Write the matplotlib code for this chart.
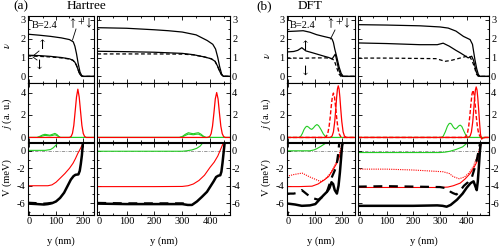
import matplotlib
matplotlib.use("Agg")
import matplotlib.pyplot as plt
from matplotlib.ticker import MultipleLocator
from matplotlib.lines import Line2D

plt.rcParams['font.family'] = ['Liberation Serif', 'DejaVu Serif']
plt.rcParams['mathtext.fontset'] = 'stix'
plt.rcParams['axes.unicode_minus'] = False

W, H = 500, 247

# ---------------- data ----------------
# x limits of the four columns (nm)
xlim_ha_l = (-5, 242)
xlim_ha_r = (-6, 472)
xlim_df_l = (-6, 247)
xlim_df_r = (-7.5, 484)
ylim_nu = (-0.35, 3.2)
ylim_j = (-0.45, 4.85)
ylim_v = (-7.35, 0.95)

xt_l = [0, 100, 200]
xt_r = [0, 100, 200, 300, 400]
yt_nu = [0, 1, 2, 3]
yt_j = [0, 2, 4]
yt_v = [0, -2, -4, -6]

# ---- Hartree, filling factor
ha_l_tot_x = [-5, 0, 40, 80, 120, 150, 164, 170, 176, 182, 189, 195, 200, 242]
ha_l_tot_y = [2.24, 2.23, 2.18, 2.12, 2.04, 1.95, 1.83, 1.6, 1.2, 0.7, 0.23, 0.05, 0.0, 0.0]
ha_l_up_x = [-5, 0, 40, 80, 120, 150, 162, 170, 176, 182, 188, 195, 200, 242]
ha_l_up_y = [1.13, 1.12, 1.1, 1.06, 1.0, 0.93, 0.86, 0.75, 0.58, 0.35, 0.12, 0.02, 0.0, 0.0]
ha_l_dn_y = [1.08, 1.08, 1.06, 1.03, 0.98, 0.92, 0.86, 0.75, 0.58, 0.35, 0.12, 0.02, 0.0, 0.0]

ha_r_tot_x = [-6, 0, 100, 200, 250, 300, 350, 390, 410, 420, 428, 435, 442, 448, 472]
ha_r_tot_y = [2.58, 2.58, 2.55, 2.47, 2.42, 2.35, 2.2, 1.9, 1.7, 1.45, 1.0, 0.5, 0.12, 0.0, 0.0]
ha_r_up_x = [-6, 0, 100, 200, 300, 340, 380, 405, 418, 427, 434, 441, 448, 472]
ha_r_up_y = [1.33, 1.33, 1.31, 1.28, 1.22, 1.15, 1.03, 0.93, 0.8, 0.55, 0.3, 0.1, 0.01, 0.0]
ha_r_dn_y = [1.19, 1.19, 1.19, 1.19, 1.18, 1.14, 1.03, 0.93, 0.8, 0.55, 0.3, 0.1, 0.01, 0.0]

# ---- DFT, filling factor
df_l_tot_x = [-6, 0, 30, 55, 80, 105, 130, 154, 162, 167, 172, 180, 188, 196, 204, 247]
df_l_tot_y = [2.38, 2.38, 2.4, 2.42, 2.34, 2.21, 2.12, 2.04, 1.98, 1.8, 1.45, 1.0, 0.5, 0.15, 0.0, 0.0]
df_l_up_x = [-6, 0, 20, 35, 50, 65, 90, 130, 150, 162, 168, 174, 180, 186, 193, 200, 247]
df_l_up_y = [1.3, 1.3, 1.32, 1.38, 1.52, 1.35, 1.25, 1.08, 1.0, 0.92, 1.05, 1.18, 0.8, 0.4, 0.12, 0.0, 0.0]
df_l_dn_x = [-6, 0, 50, 100, 140, 160, 170, 176, 182, 188, 195, 247]
df_l_dn_y = [0.98, 0.98, 0.96, 0.98, 0.98, 0.95, 0.85, 0.6, 0.35, 0.12, 0.0, 0.0]

df_r_tot_x = [-8, 0, 100, 225, 300, 331, 360, 388, 413, 422, 431, 438, 444, 450, 484]
df_r_tot_y = [2.74, 2.74, 2.72, 2.68, 2.62, 2.56, 2.4, 2.12, 1.95, 1.7, 0.9, 0.4, 0.1, 0.0, 0.0]
df_r_up_x = [-8, 0, 100, 225, 290, 312, 335, 360, 376, 395, 406, 413, 419, 426, 432, 437, 443, 450, 484]
df_r_up_y = [1.77, 1.77, 1.74, 1.68, 1.68, 1.76, 1.6, 1.38, 1.25, 1.08, 0.98, 1.03, 1.07, 0.85, 0.5, 0.2, 0.05, 0.0, 0.0]
df_r_dn_x = [-8, 0, 100, 225, 285, 300, 319, 340, 370, 401, 412, 420, 428, 437, 444, 484]
df_r_dn_y = [0.97, 0.97, 0.97, 0.95, 0.94, 0.88, 0.8, 0.84, 0.95, 1.07, 1.03, 0.85, 0.55, 0.12, 0.0, 0.0]

# ---- Hartree, current density
ha_l_jr_x = [-5, 150, 156, 161, 166, 171, 176, 181, 186, 191, 196, 201, 206, 212, 242]
ha_l_jr_y = [0, 0, 0.09, 0.36, 1.07, 2.32, 3.6, 4.3, 3.6, 2.32, 1.07, 0.36, 0.09, 0, 0]
ha_l_jg_x = [-5, 30, 40, 50, 59, 68, 77, 87, 96, 104, 110, 116, 242]
ha_l_jg1_y = [0, 0, 0.1, 0.22, 0.28, 0.24, 0.2, 0.28, 0.36, 0.25, 0.1, 0, 0]
ha_l_jg2_y = [0, 0, 0.05, 0.13, 0.18, 0.16, 0.14, 0.18, 0.24, 0.16, 0.06, 0, 0]

ha_r_jr_x = [-6, 390, 399, 404, 409, 414, 419, 424, 429, 434, 439, 444, 449, 455, 472]
ha_r_jr_y = [0, 0, 0.08, 0.34, 1.0, 2.16, 3.43, 4.0, 3.43, 2.16, 1.0, 0.34, 0.08, 0, 0]
ha_r_jg_x = [-6, 290, 300, 311, 322, 331, 340, 349, 358, 367, 376, 385, 472]
ha_r_jg1_y = [0, 0, 0.08, 0.28, 0.42, 0.37, 0.33, 0.38, 0.42, 0.3, 0.12, 0, 0]
ha_r_jg2_y = [0, 0, 0.05, 0.18, 0.3, 0.27, 0.24, 0.28, 0.3, 0.2, 0.07, 0, 0]

# ---- DFT, current density
df_l_jr_x = [-6, 155, 162, 167, 172, 176, 179, 182, 185, 188, 191, 194, 198, 203, 208, 215, 247]
df_l_jr_y = [0, 0, 0.12, 0.49, 1.43, 2.6, 3.58, 4.32, 4.6, 4.32, 3.58, 2.6, 1.43, 0.49, 0.12, 0, 0]
df_l_jrd_x = [-6, 135, 140, 146, 151, 155, 159, 163, 167, 171, 175, 179, 183, 188, 194, 200, 247]
df_l_jrd_y = [0, 0, 0.07, 0.34, 0.96, 1.78, 2.77, 3.61, 3.95, 3.61, 2.77, 1.78, 0.96, 0.34, 0.07, 0, 0]
df_l_jg_x = [-6, 40, 46, 52, 58, 64, 69, 75, 81, 87, 93, 100, 106, 112, 120, 130, 138, 145, 247]
df_l_jg_y = [0, 0, 0.1, 0.35, 0.7, 0.92, 1.0, 0.92, 0.78, 0.72, 0.85, 1.05, 1.15, 1.05, 0.75, 0.3, 0.08, 0, 0]

df_r_jr_x = [-8, 405, 413, 418, 423, 427, 430, 433, 436, 439, 442, 445, 449, 452, 456, 462, 470, 484]
df_r_jr_y = [0, 0, 0.12, 0.48, 1.4, 2.55, 3.5, 4.23, 4.5, 4.23, 3.5, 2.55, 1.2, 0.3, -0.15, -0.05, 0, 0]
df_r_jrd_x = [-8, 392, 397, 403, 408, 412, 416, 420, 424, 428, 432, 436, 440, 445, 451, 457, 484]
df_r_jrd_y = [0, 0, 0.07, 0.36, 1.02, 1.9, 2.94, 3.84, 4.2, 3.84, 2.94, 1.9, 1.02, 0.36, 0.07, 0, 0]
df_r_jg_x = [-8, 305, 312, 320, 328, 334, 338, 343, 350, 357, 364, 370, 376, 382, 390, 398, 406, 484]
df_r_jg_y = [0, 0, 0.1, 0.5, 1.0, 1.22, 1.27, 1.2, 0.92, 0.75, 0.85, 1.02, 1.1, 0.98, 0.55, 0.15, 0, 0]

# ---- Hartree, potentials
ha_l_vr_x = [-5, 0, 40, 70, 85, 100, 115, 133, 150, 163, 172, 181, 188, 196, 205, 215]
ha_l_vr_y = [-4.0, -4.0, -4.0, -4.0, -3.9, -3.6, -3.15, -2.6, -2.0, -1.43, -0.9, -0.29, 0.1, 0.6, 1.1, 1.6]
ha_l_vb_x = [-5, 0, 30, 55, 70, 85, 100, 115, 130, 145, 155, 165, 172, 183, 188, 192, 196, 200]
ha_l_vb_y = [-6.05, -6.05, -6.1, -6.15, -6.1, -6.0, -5.8, -5.4, -4.8, -3.9, -3.3, -2.9, -2.75, -2.7, -2.3, -1.5, -0.5, 1.0]
ha_l_vbd_x = [-5, 0, 30, 55, 70, 85, 100]
ha_l_vbd_y = [-5.95, -5.95, -6.0, -6.05, -6.02, -5.95, -5.78]
ha_l_vg_x = [-5, 60, 80, 90, 100, 108, 115]
ha_l_vg_y = [0.05, 0.05, 0.15, 0.35, 0.65, 1.0, 1.3]

ha_r_vr_x = [-6, 0, 100, 200, 300, 321, 340, 360, 380, 400, 415, 428, 436, 444, 452]
ha_r_vr_y = [-4.1, -4.1, -4.1, -4.1, -4.08, -4.0, -3.8, -3.4, -2.8, -1.9, -1.3, -0.6, 0.0, 0.6, 1.2]
ha_r_vb_x = [-6, 0, 100, 200, 300, 320, 335, 353, 370, 389, 405, 413, 422, 430, 437, 441, 445, 449, 453]
ha_r_vb_y = [-6.05, -6.05, -6.1, -6.1, -6.1, -6.2, -6.2, -5.8, -5.3, -4.7, -3.9, -3.5, -3.0, -2.85, -2.8, -2.4, -1.4, -0.2, 1.0]
ha_r_vbd_x = [-6, 0, 100, 200, 300, 320]
ha_r_vbd_y = [-5.97, -5.97, -6.02, -6.02, -6.02, -6.1]
ha_r_vg_x = [-6, 300, 316, 335, 352, 365, 376, 385]
ha_r_vg_y = [-0.05, -0.05, 0.0, 0.1, 0.28, 0.55, 1.0, 1.3]

# ---- DFT, potentials
df_l_vr_x = [-6, 0, 40, 88, 110, 130, 149, 165, 180, 190, 199, 205]
df_l_vr_y = [-4.1, -4.1, -4.1, -4.05, -3.8, -3.4, -2.96, -2.2, -1.4, -0.6, 0.5, 1.2]
df_l_vrd_x = [-6, 0, 20, 51, 80, 118, 135, 155, 170, 182, 192, 200]
df_l_vrd_y = [-2.9, -2.88, -2.72, -2.55, -3.0, -3.5, -3.3, -2.6, -1.8, -1.0, 0.0, 1.0]
df_l_vb_x = [-6, 0, 25, 50, 80, 100, 115, 130, 143, 152, 160, 166, 172, 180, 186, 191, 195, 199, 203]
df_l_vb_y = [-6.05, -6.05, -6.15, -6.3, -6.25, -6.1, -5.6, -5.1, -4.7, -4.3, -3.6, -3.8, -4.5, -4.9, -4.0, -2.5, -1.0, 0.5, 1.2]
df_l_vbd_x = [-6, 0, 20, 35, 50, 70, 88, 111, 125, 143, 155, 162, 170, 178, 184, 189]
df_l_vbd_y = [-4.9, -4.9, -4.9, -4.8, -4.5, -5.0, -5.4, -5.6, -5.3, -4.7, -3.6, -2.96, -2.4, -1.8, -0.5, 1.0]
df_l_vg_x = [-6, 80, 95, 106, 120, 135, 143, 150]
df_l_vg_y = [0.0, 0.0, 0.1, 0.25, 0.5, 0.8, 1.0, 1.2]

df_r_vr_x = [-8, 0, 100, 200, 300, 330, 350, 376, 395, 413, 426, 438, 447, 455]
df_r_vr_y = [-4.2, -4.2, -4.2, -4.2, -4.2, -4.15, -4.0, -3.7, -3.2, -2.6, -2.0, -1.3, -0.3, 0.9]
df_r_vrd_x = [-8, 0, 100, 200, 312, 335, 350, 372, 392, 410, 425, 438, 448, 455]
df_r_vrd_y = [-2.1, -2.1, -2.1, -2.2, -2.4, -2.6, -2.96, -3.2, -3.0, -2.5, -1.8, -0.8, 0.2, 1.0]
df_r_vb_x = [-8, 0, 100, 200, 290, 310, 325, 340, 364, 385, 401, 415, 426, 432, 438, 442, 446, 450, 454]
df_r_vb_y = [-6.3, -6.3, -6.3, -6.3, -6.25, -6.3, -6.4, -6.2, -5.6, -4.9, -4.2, -3.7, -3.5, -4.0, -4.5, -3.5, -1.8, 0.0, 1.2]
df_r_vbd_x = [-8, 0, 100, 200, 300, 326, 340, 350, 362, 375, 390, 405, 420, 430, 440, 450]
df_r_vbd_y = [-4.1, -4.1, -4.05, -4.1, -4.15, -4.3, -4.7, -4.86, -5.0, -4.6, -4.0, -3.6, -3.0, -2.0, -0.8, 0.8]
df_r_vg_x = [-8, 300, 320, 338, 360, 385, 406, 415]
df_r_vg_y = [-0.2, -0.2, -0.15, -0.05, 0.15, 0.45, 1.0, 1.3]

# ---------------- layout ----------------
fig = plt.figure(figsize=(W / 100, H / 100), dpi=100)

cols = {'ha_l': (27.7, 94.3), 'ha_r': (97.3, 230.0),
        'df_l': (286.7, 355.0), 'df_r': (358.0, 489.0)}
rows = [(16.0, 83.0), (83.0, 142.5), (142.5, 215.0)]

RED = '#ff0000'
GREEN = '#22cc22'
FS_T = 7.5


def make_ax(col, row, xlim, ylim, yticks, ymin, xticks, right_labels, bottom):
    x0, x1 = cols[col]
    y0, y1 = rows[row]
    ax = fig.add_axes([x0 / W, 1 - y1 / H, (x1 - x0) / W, (y1 - y0) / H])
    ax.set_xlim(*xlim)
    ax.set_ylim(*ylim)
    ax.set_yticks(yticks)
    ax.yaxis.set_minor_locator(MultipleLocator(ymin))
    ax.set_xticks(xticks)
    ax.xaxis.set_minor_locator(MultipleLocator(50))
    ax.tick_params(which='both', direction='in', top=True, right=True,
                   width=0.6, labelsize=FS_T, pad=1.5)
    ax.tick_params(which='major', length=2.6)
    ax.tick_params(which='minor', length=1.6)
    ax.tick_params(labelleft=not right_labels, labelright=right_labels,
                   labelbottom=bottom)
    for s in ax.spines.values():
        s.set_linewidth(0.8)
    return ax


def nu_panel(col, xlim, xticks, right, tx, ty, ux, uy, dx, dy):
    ax = make_ax(col, 0, xlim, ylim_nu, yt_nu, 0.5, xticks, right, False)
    ax.plot(tx, ty, color='black', lw=0.9)
    ax.plot(ux, uy, color='black', lw=0.9)
    ax.plot(dx, dy, color='black', lw=0.9, ls=(0, (3, 2)))
    return ax


def j_panel(col, xlim, xticks, right):
    return make_ax(col, 1, xlim, ylim_j, yt_j, 1, xticks, right, False)


def v_panel(col, xlim, xticks, right):
    ax = make_ax(col, 2, xlim, ylim_v, yt_v, 1, xticks, right, True)
    ax.axhline(0, color='#888888', lw=0.6, ls=(0, (4, 1.5, 1, 1.5)), zorder=1)
    return ax


# ---- Hartree left
ax = nu_panel('ha_l', xlim_ha_l, xt_l, False, ha_l_tot_x, ha_l_tot_y,
              ha_l_up_x, ha_l_up_y, ha_l_up_x, ha_l_dn_y)
ax = j_panel('ha_l', xlim_ha_l, xt_l, False)
ax.plot(ha_l_jg_x, ha_l_jg2_y, color=GREEN, lw=0.8)
ax.plot(ha_l_jg_x, ha_l_jg1_y, color=GREEN, lw=0.8)
ax.plot(ha_l_jr_x, ha_l_jr_y, color=RED, lw=0.9)
ax = v_panel('ha_l', xlim_ha_l, xt_l, False)
ax.plot(ha_l_vg_x, ha_l_vg_y, color=GREEN, lw=0.8)
ax.plot(ha_l_vr_x, ha_l_vr_y, color=RED, lw=0.8)
ax.plot(ha_l_vbd_x, ha_l_vbd_y, color='black', lw=1.6, ls=(0, (4, 3)))
ax.plot(ha_l_vb_x, ha_l_vb_y, color='black', lw=1.8)

# ---- Hartree right
ax = nu_panel('ha_r', xlim_ha_r, xt_r, True, ha_r_tot_x, ha_r_tot_y,
              ha_r_up_x, ha_r_up_y, ha_r_up_x, ha_r_dn_y)
ax = j_panel('ha_r', xlim_ha_r, xt_r, True)
ax.plot(ha_r_jg_x, ha_r_jg2_y, color=GREEN, lw=0.8)
ax.plot(ha_r_jg_x, ha_r_jg1_y, color=GREEN, lw=0.8)
ax.plot(ha_r_jr_x, ha_r_jr_y, color=RED, lw=0.9)
ax = v_panel('ha_r', xlim_ha_r, xt_r, True)
ax.plot(ha_r_vg_x, ha_r_vg_y, color=GREEN, lw=0.8)
ax.plot(ha_r_vr_x, ha_r_vr_y, color=RED, lw=0.8)
ax.plot(ha_r_vbd_x, ha_r_vbd_y, color='black', lw=1.6, ls=(0, (4, 3)))
ax.plot(ha_r_vb_x, ha_r_vb_y, color='black', lw=1.8)

# ---- DFT left
ax = nu_panel('df_l', xlim_df_l, xt_l, False, df_l_tot_x, df_l_tot_y,
              df_l_up_x, df_l_up_y, df_l_dn_x, df_l_dn_y)
ax = j_panel('df_l', xlim_df_l, xt_l, False)
ax.axhline(0, color=GREEN, lw=0.8)
ax.plot(df_l_jg_x, df_l_jg_y, color=GREEN, lw=0.8)
ax.plot(df_l_jrd_x, df_l_jrd_y, color=RED, lw=1.0, ls=(0, (3, 1.5)))
ax.plot(df_l_jr_x, df_l_jr_y, color=RED, lw=0.9)
ax = v_panel('df_l', xlim_df_l, xt_l, False)
ax.plot(df_l_vg_x, df_l_vg_y, color=GREEN, lw=0.8)
ax.plot(df_l_vrd_x, df_l_vrd_y, color=RED, lw=0.8, ls=(0, (1, 1)))
ax.plot(df_l_vr_x, df_l_vr_y, color=RED, lw=0.8)
ax.plot(df_l_vbd_x, df_l_vbd_y, color='black', lw=1.6, ls=(0, (4, 3)))
ax.plot(df_l_vb_x, df_l_vb_y, color='black', lw=1.8)

# ---- DFT right
ax = nu_panel('df_r', xlim_df_r, xt_r, True, df_r_tot_x, df_r_tot_y,
              df_r_up_x, df_r_up_y, df_r_dn_x, df_r_dn_y)
ax = j_panel('df_r', xlim_df_r, xt_r, True)
ax.axhline(0, color=GREEN, lw=0.8)
ax.plot(df_r_jg_x, df_r_jg_y, color=GREEN, lw=0.8)
ax.plot(df_r_jrd_x, df_r_jrd_y, color=RED, lw=1.0, ls=(0, (3, 1.5)))
ax.plot(df_r_jr_x, df_r_jr_y, color=RED, lw=0.9)
ax = v_panel('df_r', xlim_df_r, xt_r, True)
ax.plot(df_r_vg_x, df_r_vg_y, color=GREEN, lw=0.8)
ax.plot(df_r_vrd_x, df_r_vrd_y, color=RED, lw=0.8, ls=(0, (1, 1)))
ax.plot(df_r_vr_x, df_r_vr_y, color=RED, lw=0.8)
ax.plot(df_r_vbd_x, df_r_vbd_y, color='black', lw=1.6, ls=(0, (4, 3)))
ax.plot(df_r_vb_x, df_r_vb_y, color='black', lw=1.8)


# ---------------- texts ----------------
def ftxt(x, y, s, **kw):
    fig.text(x / W, 1 - y / H, s, **kw)


def fline(x0, y0, x1, y1):
    fig.add_artist(Line2D([x0 / W, x1 / W], [1 - y0 / H, 1 - y1 / H],
                          color='black', lw=0.6, transform=fig.transFigure))


ftxt(13, 6, '(a)', fontsize=9.5, va='center', ha='left')
ftxt(67, 6, 'Hartree', fontsize=9.5, va='center', ha='left')
ftxt(256, 6, '(b)', fontsize=9.5, va='center', ha='left')
ftxt(298, 6, 'DFT', fontsize=9.5, va='center', ha='left')

for xo in (0, 259):
    ftxt(7.5 + xo, 45 if xo == 0 else 55, r'$\nu$', fontsize=8, rotation=90,
         va='center', ha='center')
    ftxt(7.5 + xo, 114, r'$j$ (a. u.)', fontsize=7.5, rotation=90,
         va='center', ha='center')
    ftxt(7.5 + xo, 178, 'V (meV)', fontsize=7.5, rotation=90,
         va='center', ha='center')

for xc in (61, 164, 321, 424):
    ftxt(xc, 241, 'y (nm)', fontsize=7.5, va='center', ha='center')

AR = dict(fontsize=9.5, va='center', ha='center', family=['DejaVu Serif'])
PM = dict(fontsize=8.5, va='center', ha='center')
PM_TXT = r'$\uparrow$+$\downarrow$'
ftxt(32, 25, 'B=2.4', fontsize=7.5, va='center', ha='left')
ftxt(80.5, 23, PM_TXT, **PM)
fline(76, 29, 72.5, 40)
ftxt(41.5, 45, '↑', **AR)
ftxt(39, 65, '↓', **AR)
fline(39, 51, 33, 56)
fline(37, 60, 33, 57)

ftxt(290, 25, 'B=2.4', fontsize=7.5, va='center', ha='left')
ftxt(338.5, 23, PM_TXT, **PM)
fline(335, 30, 330.5, 39)
ftxt(304.5, 46, '↑', **AR)
ftxt(304.5, 71, '↓', **AR)

fig.savefig('out.png', dpi=100)
